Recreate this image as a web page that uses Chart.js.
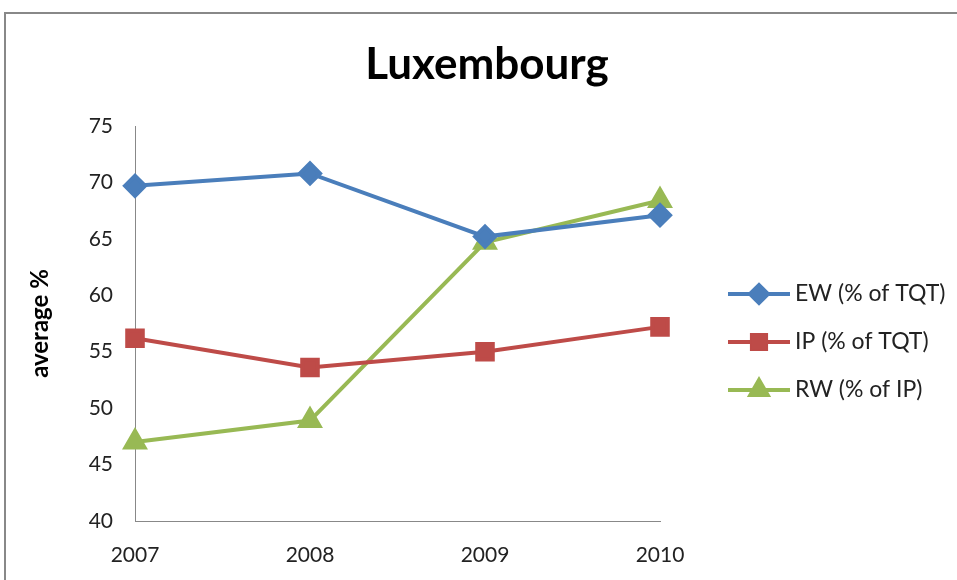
<!DOCTYPE html>
<html lang="en">
<head>
    <meta charset="UTF-8">
    <title>Luxembourg</title>
    <script src="https://cdn.jsdelivr.net/npm/chart.js"></script>
    <style>
        body { margin: 0; background: #fff; }
        .chart-box { width: 957px; height: 580px; }
    </style>
</head>
<body>
    <div class="chart-box">
        <canvas id="luxChart" width="957" height="580"></canvas>
    </div>

    <script>
        const years = ['2007', '2008', '2009', '2010'];
        const ewValues = [69.7, 70.8, 65.2, 67.1];
        const ipValues = [56.2, 53.6, 55.0, 57.2];
        const rwValues = [47.0, 48.9, 64.7, 68.4];
        const seriesNames = ['EW (% of TQT)', 'IP (% of TQT)', 'RW (% of IP)'];
        const chartTitle = 'Luxembourg';

        const FONT = 'Lato, "Open Sans", sans-serif';

        // frame, title over the whole picture, legend with line + marker
        const framePlugin = {
            id: 'frame',
            beforeDraw(chart) {
                const ctx = chart.ctx;
                ctx.save();
                ctx.strokeStyle = '#888';
                ctx.lineWidth = 2;
                ctx.beginPath();
                ctx.moveTo(5, 580);
                ctx.lineTo(5, 13);
                ctx.lineTo(957, 13);
                ctx.stroke();
                ctx.restore();
            },
            afterDraw(chart) {
                const ctx = chart.ctx;
                ctx.save();
                ctx.fillStyle = '#000';
                ctx.font = 'bold 44px ' + FONT;
                ctx.textAlign = 'center';
                ctx.textBaseline = 'middle';
                ctx.fillText(chartTitle, 487, 65);

                chart.data.datasets.forEach((ds, i) => {
                    const y = 294 + i * 48;
                    ctx.strokeStyle = ds.borderColor;
                    ctx.lineWidth = 4;
                    ctx.beginPath();
                    ctx.moveTo(728, y);
                    ctx.lineTo(790, y);
                    ctx.stroke();
                    Chart.helpers.drawPoint(ctx, {
                        pointStyle: ds.pointStyle,
                        radius: ds.pointRadius - 1,
                        borderWidth: 1
                    }, 759, y);
                    ctx.fillStyle = ds.pointBackgroundColor;
                    ctx.strokeStyle = ds.pointBorderColor;
                    ctx.fill();
                    ctx.fillStyle = '#222';
                    ctx.font = '23px ' + FONT;
                    ctx.textBaseline = 'middle';
                    ctx.textAlign = 'left';
                    ctx.fillText(ds.label, 795, y);
                });
                ctx.restore();
            }
        };

        function series(label, data, color, style, radius) {
            return {
                label: label,
                data: data,
                borderColor: color,
                backgroundColor: color,
                pointBackgroundColor: color,
                pointBorderColor: color,
                borderWidth: 4,
                pointStyle: style,
                pointRadius: radius,
                pointHoverRadius: radius,
                tension: 0
            };
        }

        const ctx = document.getElementById('luxChart').getContext('2d');
        const luxChart = new Chart(ctx, {
            type: 'line',
            data: {
                labels: years,
                datasets: [
                    series(seriesNames[0], ewValues, '#4a7ebb', 'rectRot', 10),
                    series(seriesNames[1], ipValues, '#be4b48', 'rect', 11),
                    series(seriesNames[2], rwValues, '#98b954', 'triangle', 11)
                ]
            },
            options: {
                responsive: false,
                animation: false,
                layout: { padding: { left: 0, right: 297, top: 126, bottom: 0 } },
                plugins: {
                    legend: { display: false },
                    tooltip: { enabled: false },
                    title: { display: false }
                },
                scales: {
                    x: {
                        offset: false,
                        grid: { drawOnChartArea: false, drawTicks: false },
                        border: { color: '#888', width: 1 },
                        ticks: { color: '#222', font: { family: FONT, size: 21 }, padding: 22 },
                        afterFit: s => { s.height = 59; }
                    },
                    y: {
                        min: 40,
                        max: 75,
                        grid: { drawOnChartArea: false, drawTicks: false },
                        border: { color: '#888', width: 1 },
                        ticks: { stepSize: 5, color: '#222', font: { family: FONT, size: 21 }, padding: 22 },
                        title: {
                            display: true,
                            text: 'average %',
                            color: '#000',
                            font: { family: FONT, size: 24, weight: 'bold' },
                            padding: { top: 26, bottom: 4 }
                        },
                        afterFit: s => { s.width = 135; }
                    }
                }
            },
            plugins: [framePlugin]
        });
    </script>
</body>
</html>
